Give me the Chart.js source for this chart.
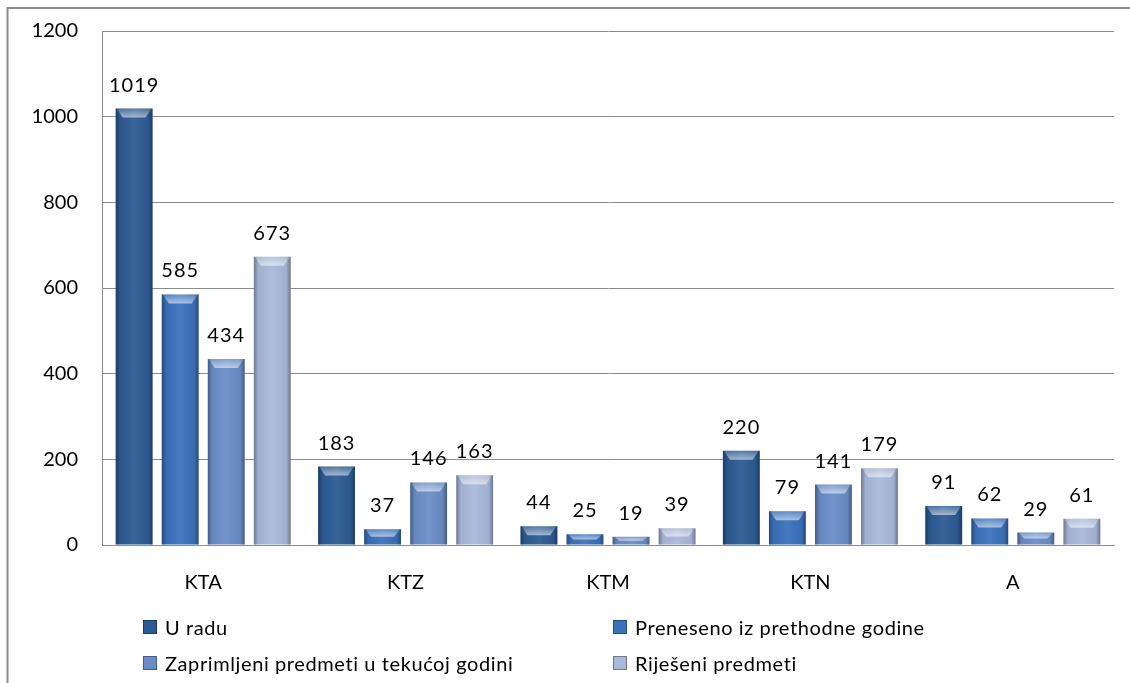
<!DOCTYPE html>
<html>
<head>
<meta charset="utf-8">
<script src="https://cdn.jsdelivr.net/npm/chart.js@4"></script>
<style>
  body { margin: 0; background: #fff; }
  #wrap { position: relative; width: 1130px; height: 683px; overflow: hidden; }
  #legenda {
    position: absolute; left: 143px; top: 614px; width: 940px;
    display: grid; grid-template-columns: 470px 470px; row-gap: 10px;
    font-family: Lato, "Liberation Sans", sans-serif; font-size: 20px; color: #000;
    letter-spacing: 0.6px;
  }
  #legenda .item { display: flex; align-items: center; height: 26px; }
  #legenda .box { width: 14px; height: 14px; margin-right: 8px; box-sizing: border-box; border: 1px solid rgba(0,0,0,0.35); }
</style>
</head>
<body>
<div id="wrap">
  <canvas id="grafico" width="1130" height="683"></canvas>
  <div id="legenda"></div>
</div>
<script>
  const kategorije = ["KTA", "KTZ", "KTM", "KTN", "A"];
  const uRadu = [1019, 183, 44, 220, 91];
  const preneseno = [585, 37, 25, 79, 62];
  const zaprimljeni = [434, 146, 19, 141, 29];
  const rijeseni = [673, 163, 39, 179, 61];
  const nazivi = [
    "U radu",
    "Preneseno iz prethodne godine",
    "Zaprimljeni predmeti u tekućoj godini",
    "Riješeni predmeti",
  ];
  const boje = ["#2c5b94", "#3a72bd", "#6a8dc9", "#a9b9da"];
  const yMax = 1200;
  const yKorak = 200;

  const font = "Lato, 'Liberation Sans', sans-serif";

  // okvir oko grafika
  const okvir = {
    id: "okvir",
    beforeDraw(chart) {
      const c = chart.ctx;
      c.save();
      c.strokeStyle = "#8c8c8c";
      c.lineWidth = 2;
      c.beginPath();
      c.moveTo(7.5, 683);
      c.lineTo(7.5, 8);
      c.lineTo(1130, 8);
      c.stroke();
      c.restore();
    },
  };

  // svjetliji gornji rub i tamnije strane stupaca
  const reljef = {
    id: "reljef",
    afterDatasetsDraw(chart) {
      const c = chart.ctx;
      c.save();
      chart.data.datasets.forEach((ds, i) => {
        chart.getDatasetMeta(i).data.forEach((bar) => {
          const x0 = bar.x - bar.width / 2;
          const x1 = bar.x + bar.width / 2;
          const top = bar.y;
          const bot = bar.base;
          const g = c.createLinearGradient(x0, 0, x1, 0);
          g.addColorStop(0, "rgba(0,0,0,0.35)");
          g.addColorStop(0.12, "rgba(0,0,0,0.05)");
          g.addColorStop(0.5, "rgba(255,255,255,0.06)");
          g.addColorStop(0.88, "rgba(0,0,0,0.05)");
          g.addColorStop(1, "rgba(0,0,0,0.35)");
          c.fillStyle = g;
          c.fillRect(x0, top, x1 - x0, bot - top);
          const h = Math.min(9, (bot - top) / 2);
          const gt = c.createLinearGradient(0, top, 0, top + h);
          gt.addColorStop(0, "rgba(255,255,255,0.15)");
          gt.addColorStop(1, "rgba(255,255,255,0.55)");
          c.fillStyle = gt;
          c.beginPath();
          c.moveTo(x0 + 1, top);
          c.lineTo(x1 - 1, top);
          c.lineTo(x1 - 7, top + h);
          c.lineTo(x0 + 7, top + h);
          c.closePath();
          c.fill();
        });
      });
      c.restore();
    },
  };

  // vrijednosti iznad stupaca
  const vrijednosti = {
    id: "vrijednosti",
    afterDatasetsDraw(chart) {
      const c = chart.ctx;
      c.save();
      c.font = "20px " + font;
      c.fillStyle = "#000";
      c.textAlign = "center";
      c.textBaseline = "alphabetic";
      if ("letterSpacing" in c) c.letterSpacing = "1px";
      chart.data.datasets.forEach((ds, i) => {
        chart.getDatasetMeta(i).data.forEach((bar, j) => {
          c.fillText(String(ds.data[j]), bar.x, bar.y - 17);
        });
      });
      c.restore();
    },
  };

  const ctx = document.getElementById("grafico");

  var grafico = new Chart(ctx, {
    type: "bar",
    data: {
      labels: kategorije,
      datasets: [uRadu, preneseno, zaprimljeni, rijeseni].map((d, i) => ({
        label: nazivi[i],
        data: d,
        backgroundColor: boje[i],
        borderWidth: 0,
        barPercentage: 0.8,
        categoryPercentage: 0.91,
      })),
    },
    options: {
      responsive: false,
      animation: false,
      layout: {
        padding: { top: 31, right: 16, left: 0, bottom: 0 },
      },
      plugins: {
        legend: { display: false },
        tooltip: { enabled: false },
      },
      scales: {
        x: {
          grid: { display: false, drawTicks: false },
          border: { display: true, color: "#8c8c8c", width: 1 },
          ticks: {
            color: "#000",
            font: { family: font, size: 20 },
            padding: 26,
          },
          afterFit(scale) {
            scale.height = 138;
          },
        },
        y: {
          min: 0,
          max: yMax,
          grid: { color: "#8c8c8c", lineWidth: 1, drawTicks: false },
          border: { display: true, color: "#8c8c8c", width: 1 },
          ticks: {
            stepSize: yKorak,
            color: "#000",
            font: { family: font, size: 20 },
            padding: 24,
            callback: (v) => String(v),
          },
          afterFit(scale) {
            scale.width = 102;
            scale.paddingTop = 0;
            scale.paddingBottom = 0;
          },
        },
      },
    },
    plugins: [okvir, reljef, vrijednosti],
  });

  const legenda = document.getElementById("legenda");
  [0, 1, 2, 3].forEach((i) => {
    const item = document.createElement("div");
    item.className = "item";
    const box = document.createElement("span");
    box.className = "box";
    box.style.background = boje[i];
    const txt = document.createElement("span");
    txt.textContent = nazivi[i];
    item.appendChild(box);
    item.appendChild(txt);
    legenda.appendChild(item);
  });
</script>
</body>
</html>
